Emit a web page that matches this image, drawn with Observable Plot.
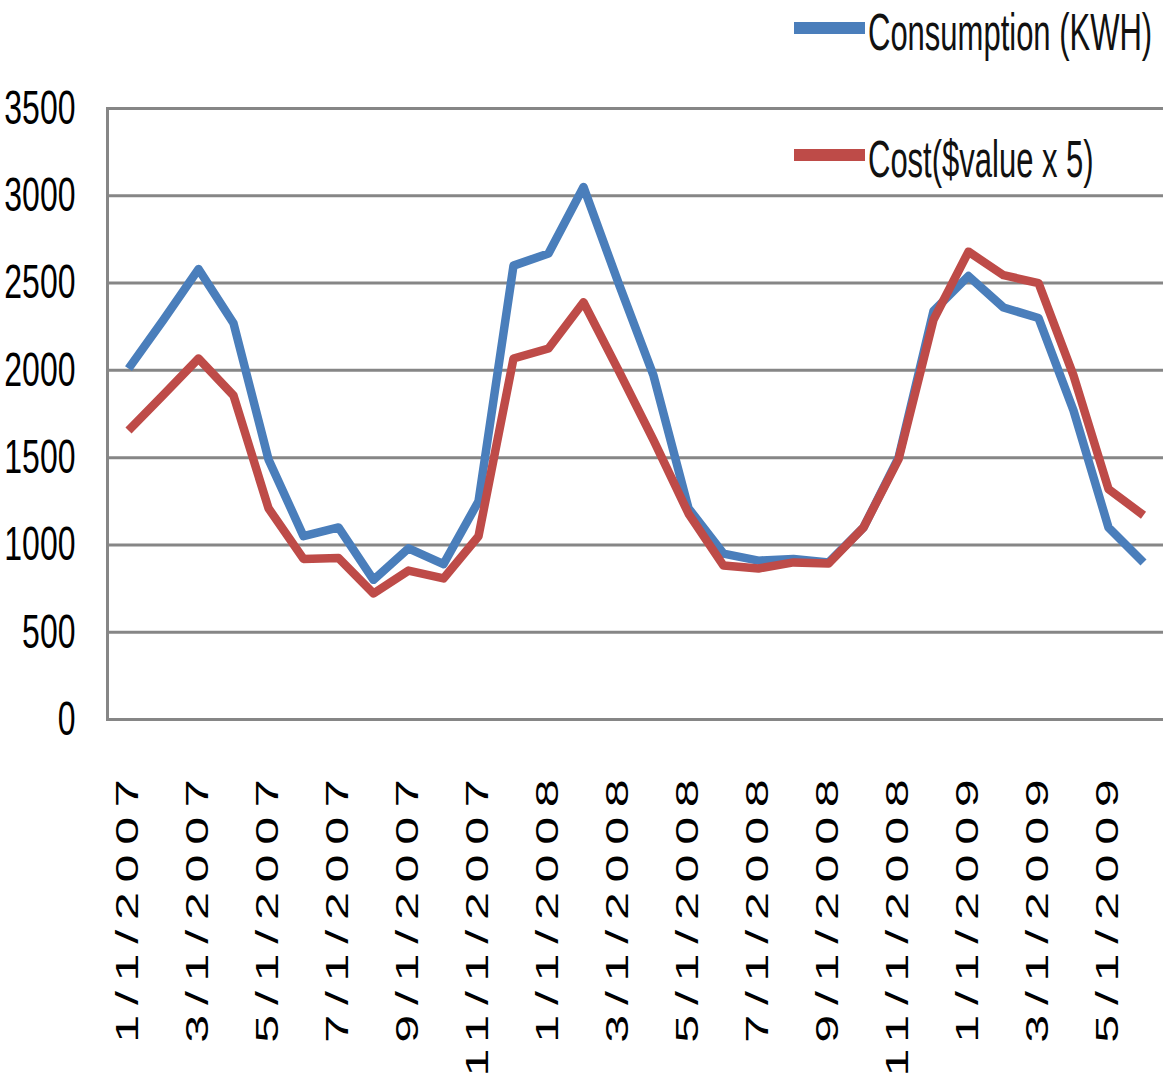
<!DOCTYPE html>
<html>
<head>
<meta charset="utf-8">
<script src="https://cdn.jsdelivr.net/npm/d3@7"></script>
<script src="https://cdn.jsdelivr.net/npm/@observablehq/plot@0.6"></script>
<style>
  html, body { margin: 0; padding: 0; background: #fff; }
  #wrap { position: relative; width: 1163px; height: 1089px; overflow: hidden; }
  #legend { position: absolute; left: 0; top: 0; pointer-events: none; }
</style>
</head>
<body>
<div id="wrap"></div>
<script>
// Months (category axis)
const months = [
  "1/1/2007","2/1/2007","3/1/2007","4/1/2007","5/1/2007","6/1/2007",
  "7/1/2007","8/1/2007","9/1/2007","10/1/2007","11/1/2007","12/1/2007",
  "1/1/2008","2/1/2008","3/1/2008","4/1/2008","5/1/2008","6/1/2008",
  "7/1/2008","8/1/2008","9/1/2008","10/1/2008","11/1/2008","12/1/2008",
  "1/1/2009","2/1/2009","3/1/2009","4/1/2009","5/1/2009","6/1/2009"
];
// Tick labels shown on the x axis
const xTickLabels = [
  "1/1/2007","3/1/2007","5/1/2007","7/1/2007","9/1/2007","11/1/2007",
  "1/1/2008","3/1/2008","5/1/2008","7/1/2008","9/1/2008","11/1/2008",
  "1/1/2009","3/1/2009","5/1/2009"
];
const yTicks = [0, 500, 1000, 1500, 2000, 2500, 3000, 3500];

// Series
const consumption = [
  2010, 2290, 2580, 2270, 1490, 1050, 1100, 800, 980, 890, 1250, 2600,
  2670, 3050, 2500, 1970, 1210, 950, 910, 920, 900, 1100, 1500, 2340,
  2540, 2360, 2300, 1770, 1100, 900
];
const cost = [
  1655, 1860, 2068, 1856, 1210, 920, 925, 722, 853, 808, 1050, 2068,
  2125, 2390, 2000, 1600, 1180, 882, 865, 900, 893, 1100, 1490, 2290,
  2680, 2545, 2500, 1970, 1320, 1170
];
const seriesNames = ["Consumption (KWH)", "Cost($value x 5)"];
const seriesColors = ["#4A7EBB", "#BE4B48"];

const rows = months.map((m, i) => ({month: m, kwh: consumption[i], cost: cost[i]}));

const font = "'Liberation Sans', Arial, Helvetica, sans-serif";

const chart = Plot.plot({
  width: 1163,
  height: 1089,
  marginTop: 108,
  marginBottom: 370,
  marginLeft: 107,
  marginRight: 0,
  style: {fontFamily: font, background: "white", color: "#000", overflow: "visible"},
  x: {type: "point", domain: months, padding: 0.5, label: null, axis: null},
  y: {domain: [0, 3500], label: null, axis: null},
  marks: [
    Plot.ruleY(yTicks, {stroke: "#868686", strokeWidth: 3}),
    Plot.frame({anchor: "left", stroke: "#868686", strokeWidth: 3}),
    Plot.axisY({ticks: yTicks, tickSize: 0, tickPadding: 32, fontSize: 32, label: null, tickFormat: d => String(d)}),
    Plot.axisX({ticks: xTickLabels, tickSize: 0, tickPadding: 50, tickRotate: -90, fontSize: 31, label: null}),
    Plot.line(rows, {x: "month", y: "kwh", stroke: seriesColors[0], strokeWidth: 8.5, strokeLinejoin: "round", strokeLinecap: "butt"}),
    Plot.line(rows, {x: "month", y: "cost", stroke: seriesColors[1], strokeWidth: 8.5, strokeLinejoin: "round", strokeLinecap: "butt"})
  ]
});

document.getElementById("wrap").appendChild(chart);

// stretch axis text to mimic the reference's distorted glyphs
function stretch(node, sx, sy) {
  const t = node.getAttribute("transform") || "";
  node.setAttribute("transform", t + ` scale(${sx},${sy})`);
}
const svg = d3.select(chart);
svg.selectAll("[aria-label='y-axis tick label'] text").each(function() { stretch(this, 1, 1.5); });
svg.selectAll("[aria-label='x-axis tick label'] text").each(function() {
  this.style.letterSpacing = "6px";
  stretch(this, 1.62, 1);
});

// Legend (overlay, top right)
const lg = d3.select("#wrap").append("svg")
  .attr("id", "legend").attr("width", 1163).attr("height", 200)
  .style("font-family", font);
const items = [{name: seriesNames[0], color: seriesColors[0], y: 28},
               {name: seriesNames[1], color: seriesColors[1], y: 155}];
items.forEach(it => {
  lg.append("line").attr("x1", 794).attr("x2", 865).attr("y1", it.y).attr("y2", it.y)
    .attr("stroke", it.color).attr("stroke-width", 12);
  lg.append("text").attr("transform", `translate(868,${it.y + 22}) scale(1,1.65)`)
    .attr("font-size", 31).attr("fill", "#111").text(it.name);
});
</script>
</body>
</html>
